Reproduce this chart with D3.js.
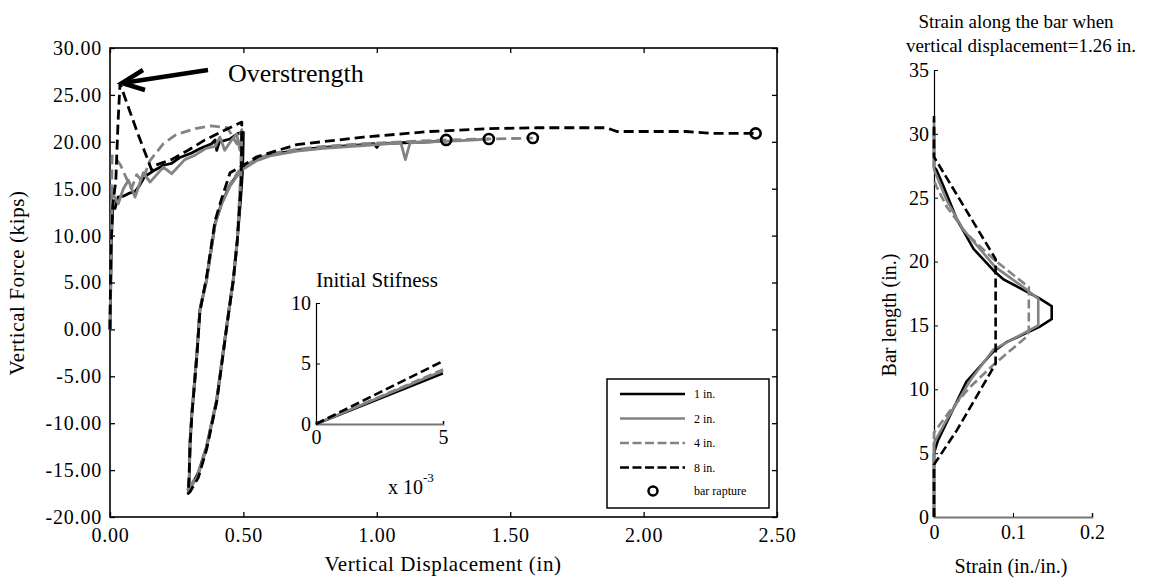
<!DOCTYPE html>
<html>
<head>
<meta charset="utf-8">
<script src="https://cdn.jsdelivr.net/npm/d3@7"></script>
<style>
body { margin: 0; background: #fff; }
svg text { font-family: "Liberation Serif", "Times New Roman", serif; fill: #000; }
</style>
</head>
<body>
<div id="chart"></div>
<script>
// main plot: vertical displacement (in) vs vertical force (kips)
const disp1 = [0, 0.003, 0.006, 0.01, 0.019, 0.03, 0.05, 0.07, 0.094, 0.11, 0.13, 0.169, 0.2, 0.231, 0.26, 0.306, 0.34, 0.381, 0.394, 0.4, 0.41, 0.45, 0.48, 0.5,
  0.497, 0.49, 0.477, 0.462, 0.444, 0.4, 0.362, 0.331, 0.3, 0.293,
  0.297, 0.3, 0.307, 0.326, 0.337, 0.362, 0.394, 0.419, 0.45, 0.48, 0.5, 0.55, 0.6, 0.7, 0.8, 0.95, 0.99, 1.0, 1.01, 1.1, 1.2, 1.26]
const force1 = [0, 5, 10, 13, 12.9, 14.1, 14.2, 14.5, 14.7, 15.3, 16.3, 17.0, 17.5, 17.7, 18.3, 18.8, 19.3, 19.8, 20.2, 19.1, 20.0, 20.3, 20.9, 21.0,
  17, 14, 9.5, 5.3, 1.75, -7.5, -12.5, -15.3, -16.9, -17.1,
  -16, -12, -8.9, -2.5, 2.1, 5.3, 11.3, 13.5, 15.4, 16.6, 17.2, 18.1, 18.6, 19.1, 19.4, 19.7, 19.8, 19.4, 19.8, 19.9, 20.0, 20.1]

const disp2 = [0, 0.004, 0.008, 0.02, 0.031, 0.05, 0.069, 0.094, 0.125, 0.15, 0.2, 0.231, 0.28, 0.32, 0.36, 0.394, 0.412, 0.43, 0.456, 0.475, 0.487, 0.494,
  0.49, 0.477, 0.462, 0.444, 0.4, 0.362, 0.331, 0.3, 0.293,
  0.297, 0.3, 0.307, 0.326, 0.337, 0.362, 0.394, 0.419, 0.45, 0.48, 0.5, 0.55, 0.6, 0.7, 0.8, 0.95, 1.09, 1.107, 1.125, 1.2, 1.3, 1.42]
const force2 = [0, 8, 14.5, 14.0, 13.4, 15.0, 15.9, 14.1, 16.7, 15.7, 17.3, 16.6, 18.1, 18.6, 19.3, 19.5, 20.5, 19.1, 20.2, 20.8, 19.1, 20.8,
  16, 9.3, 5.1, 1.6, -7.6, -12.6, -15.5, -17.0, -17.2,
  -16, -12.2, -9, -2.6, 2.0, 5.2, 11.2, 13.4, 15.3, 16.5, 17.1, 18.0, 18.5, 19.0, 19.3, 19.6, 19.9, 18.1, 19.9, 20.0, 20.1, 20.3]

const disp4 = [0, 0.004, 0.008, 0.02, 0.04, 0.06, 0.08, 0.1, 0.12, 0.15, 0.2, 0.25, 0.32, 0.38, 0.44, 0.475, 0.494,
  0.49, 0.477, 0.462, 0.444, 0.4, 0.362, 0.331, 0.3, 0.293,
  0.297, 0.3, 0.307, 0.326, 0.337, 0.362, 0.394, 0.419, 0.45, 0.48, 0.5, 0.55, 0.6, 0.7, 0.8, 0.95, 1.1, 1.26, 1.42, 1.585]
const force4 = [0, 10, 18.5, 18.3, 17.5, 16.2, 15.0, 16.5, 15.8, 18.0, 19.8, 20.8, 21.4, 21.7, 21.5, 19.8, 21.3,
  16.5, 9.6, 5.4, 1.8, -7.4, -12.4, -15.2, -16.8, -17.0,
  -15.8, -12, -8.8, -2.4, 2.2, 5.4, 11.4, 13.6, 15.5, 16.8, 17.3, 18.2, 18.7, 19.2, 19.5, 19.8, 20.0, 20.2, 20.3, 20.4]

const disp8 = [0, 0.003, 0.01, 0.022, 0.03, 0.0375, 0.1, 0.156, 0.17, 0.23, 0.293, 0.356, 0.419, 0.494,
  0.492, 0.477, 0.462, 0.444, 0.4, 0.362, 0.331, 0.3, 0.293,
  0.296, 0.3, 0.307, 0.326, 0.337, 0.362, 0.394, 0.419, 0.45, 0.5, 0.55, 0.7, 0.95, 1.2, 1.42, 1.6, 1.86, 1.9, 2.16, 2.25, 2.42]
const force8 = [0, 8, 13, 16, 22, 26.2, 21.2, 17.0, 17.5, 18.1, 19.1, 20.2, 21.1, 22.1,
  16, 9.4, 5.2, 1.6, -7.7, -12.8, -15.8, -17.3, -17.5,
  -16, -12.4, -9.1, -2.7, 1.9, 5.6, 11.6, 14, 16.7, 17.5, 18.4, 19.7, 20.5, 21.1, 21.4, 21.5, 21.5, 21.1, 21.1, 20.9, 20.9]

const ruptureDisp = [1.26, 1.42, 1.585, 2.42]
const ruptureForce = [20.2, 20.3, 20.4, 20.9]

const mainXTicks = [0, 0.5, 1, 1.5, 2, 2.5]
const mainYTicks = [-20, -15, -10, -5, 0, 5, 10, 15, 20, 25, 30]

// inset: initial stiffness, force at displacement 5e-3
const insetEnd = 0.005
const insetForce = [4.2, 4.4, 4.5, 5.2]

// right plot: strain along the bar (x) vs bar length (y)
const strain1 = [0, 0, 0.005, 0.016, 0.041, 0.075, 0.092, 0.134, 0.149, 0.149, 0.134, 0.088, 0.077, 0.05, 0.029, 0.012, 0.003, 0, 0]
const length1 = [0, 5.0, 6.0, 7.4, 10.6, 12.95, 13.7, 14.9, 15.5, 16.5, 17.1, 18.6, 19.2, 21.0, 23.3, 25.9, 27.2, 27.4, 30.5]
const strain2 = [0, 0, 0.016, 0.046, 0.075, 0.132, 0.132, 0.113, 0.077, 0.058, 0.037, 0.016, 0, 0]
const length2 = [0, 5.8, 7.6, 10.7, 13.1, 15.0, 17.1, 18.0, 19.6, 21.0, 22.5, 24.8, 27.2, 31.1]
const strain4 = [0, 0, 0.02, 0.046, 0.075, 0.117, 0.12, 0.12, 0.077, 0.041, 0.016, 0.003, 0]
const length4 = [0, 6.6, 8.3, 10.2, 11.9, 14.1, 14.5, 18.0, 20.1, 22.2, 24.3, 25.9, 26.4]
const strain8 = [0, 0, 0.029, 0.078, 0.078, 0, 0]
const length8 = [0, 4.1, 6.8, 12.0, 20.2, 28.2, 31.4]

const strainTicks = [0, 0.1, 0.2]
const lengthTicks = [0, 5, 10, 15, 20, 25, 30, 35]

const seriesNames = ["1 in.", "2 in.", "4 in.", "8 in."]
const seriesColor = ["#000", "#838383", "#838383", "#000"]
const seriesDash = [null, null, "10,5", "10,5"]

let zip = (a, b) => a.map((v, i) => [v, b[i]])

let svg = d3.select("#chart").append("svg")
            .attr("width", 1153)
            .attr("height", 579)

// ---------- main plot ----------
let x = d3.scaleLinear().domain([0, 2.5]).range([110, 777])
let y = d3.scaleLinear().domain([-20, 30]).range([517, 48])
let f2 = d => d3.format(".2f")(d).replace("\u2212", "-")

let styleAxis = g => {
    g.select(".domain").remove()
    g.selectAll(".tick line").attr("stroke", "#000").attr("stroke-width", 1.3)
    g.selectAll("text").attr("font-size", 20).attr("letter-spacing", "0.8px")
}

svg.append("g").attr("transform", "translate(0,517)")
   .call(d3.axisBottom(x).tickValues(mainXTicks).tickFormat(f2).tickSize(-5).tickPadding(11))
   .call(styleAxis)
svg.append("g").attr("transform", "translate(0,48)")
   .call(d3.axisTop(x).tickValues(mainXTicks).tickFormat("").tickSize(-5))
   .call(styleAxis)
svg.append("g").attr("transform", "translate(110,0)")
   .call(d3.axisLeft(y).tickValues(mainYTicks).tickFormat(f2).tickSize(-5).tickPadding(8))
   .call(styleAxis)
svg.append("g").attr("transform", "translate(777,0)")
   .call(d3.axisRight(y).tickValues(mainYTicks).tickFormat("").tickSize(-5))
   .call(styleAxis)

svg.append("rect").attr("x", 110).attr("y", 48).attr("width", 667).attr("height", 469)
   .attr("fill", "none").attr("stroke", "#000").attr("stroke-width", 1.6)

let mainLine = d3.line().x(d => x(d[0])).y(d => y(d[1]))
let mainData = [zip(disp1, force1), zip(disp2, force2), zip(disp4, force4), zip(disp8, force8)]

svg.selectAll("path.main")
   .data(mainData)
   .enter()
   .append("path")
   .attr("class", "main")
   .attr("d", mainLine)
   .attr("fill", "none")
   .attr("stroke", (d, i) => seriesColor[i])
   .attr("stroke-width", 2.8)
   .attr("stroke-dasharray", (d, i) => seriesDash[i])
   .attr("stroke-linejoin", "round")

svg.selectAll("circle.rupture")
   .data(zip(ruptureDisp, ruptureForce))
   .enter()
   .append("circle")
   .attr("class", "rupture")
   .attr("cx", d => x(d[0]))
   .attr("cy", d => y(d[1]))
   .attr("r", 5)
   .attr("fill", "none")
   .attr("stroke", "#000")
   .attr("stroke-width", 2.6)

// Overstrength arrow
svg.append("line").attr("x1", 208).attr("y1", 70).attr("x2", 126).attr("y2", 82.5)
   .attr("stroke", "#000").attr("stroke-width", 4.5)
svg.append("path").attr("d", "M143,70 L122,83 L145,90")
   .attr("fill", "none").attr("stroke", "#000").attr("stroke-width", 4.5)
svg.append("text").attr("x", 228).attr("y", 82).attr("font-size", 26).text("Overstrength")

svg.append("text").attr("x", 443).attr("y", 571).attr("text-anchor", "middle")
   .attr("font-size", 21).attr("letter-spacing", "0.6px").text("Vertical Displacement (in)")
svg.append("text").attr("transform", "translate(24,283) rotate(-90)").attr("text-anchor", "middle")
   .attr("font-size", 21).attr("letter-spacing", "0.6px").text("Vertical Force (kips)")

// ---------- inset ----------
let ix = d3.scaleLinear().domain([0, insetEnd]).range([316, 443])
let iy = d3.scaleLinear().domain([0, 10]).range([424, 303])

let inL = svg.append("g").attr("transform", "translate(316,0)")
   .call(d3.axisLeft(iy).tickValues([0, 5, 10]).tickSize(-4).tickPadding(5))
inL.select(".domain").attr("stroke", "#000").attr("stroke-width", 1.2)
inL.selectAll("text").attr("font-size", 20)
let inB = svg.append("g").attr("transform", "translate(0,424)")
   .call(d3.axisBottom(ix).tickValues([0, insetEnd]).tickFormat(d => d * 1000).tickSize(-3).tickPadding(6))
inB.select(".domain").attr("stroke", "#777").attr("stroke-width", 2)
inB.selectAll("text").attr("font-size", 20)

svg.selectAll("line.inset")
   .data(insetForce)
   .enter()
   .append("line")
   .attr("class", "inset")
   .attr("x1", ix(0)).attr("y1", iy(0))
   .attr("x2", ix(insetEnd)).attr("y2", d => iy(d))
   .attr("stroke", (d, i) => seriesColor[i])
   .attr("stroke-width", 2.6)
   .attr("stroke-dasharray", (d, i) => seriesDash[i] ? "9,4" : null)

svg.append("text").attr("x", 377).attr("y", 287).attr("text-anchor", "middle")
   .attr("font-size", 21).text("Initial Stifness")
let xl = svg.append("text").attr("x", 388).attr("y", 494).attr("font-size", 20)
xl.append("tspan").text("x 10")
xl.append("tspan").attr("dy", -12).attr("font-size", 13).text("-3")

// ---------- legend ----------
let legend = svg.append("g")
legend.append("rect").attr("x", 607).attr("y", 379).attr("width", 162).attr("height", 129)
      .attr("fill", "#fff").attr("stroke", "#000").attr("stroke-width", 1.5)
let rows = legend.selectAll("g.row")
      .data(seriesNames)
      .enter()
      .append("g")
      .attr("class", "row")
      .attr("transform", (d, i) => "translate(0," + (394 + i * 24.5) + ")")
rows.append("line").attr("x1", 620).attr("x2", 685)
    .attr("stroke", (d, i) => seriesColor[i])
    .attr("stroke-width", 2.6)
    .attr("stroke-dasharray", (d, i) => seriesDash[i] ? "9,3.5" : null)
rows.append("text").attr("x", 694).attr("y", 4).attr("font-size", 12).text(d => d)
legend.append("circle").attr("cx", 653).attr("cy", 491).attr("r", 4.5)
      .attr("fill", "none").attr("stroke", "#000").attr("stroke-width", 2.5)
legend.append("text").attr("x", 694).attr("y", 495).attr("font-size", 12).text("bar rapture")

// ---------- right plot ----------
let rx = d3.scaleLinear().domain([0, 0.2]).range([934, 1092])
let ry = d3.scaleLinear().domain([0, 35]).range([517, 70])

let rL = svg.append("g").attr("transform", "translate(934,0)")
   .call(d3.axisLeft(ry).tickValues(lengthTicks).tickSize(-4).tickPadding(5))
rL.select(".domain").attr("stroke", "#000").attr("stroke-width", 1.2)
rL.selectAll("text").attr("font-size", 20)
let rB = svg.append("g").attr("transform", "translate(0,517)")
   .call(d3.axisBottom(rx).tickValues(strainTicks).tickFormat(d => d === 0 ? "0" : d3.format(".1f")(d)).tickSize(-4).tickPadding(8))
rB.select(".domain").attr("stroke", "#777").attr("stroke-width", 1.8)
rB.selectAll("text").attr("font-size", 20)

let rightLine = d3.line().x(d => rx(d[0])).y(d => ry(d[1]))
let rightData = [zip(strain1, length1), zip(strain2, length2), zip(strain4, length4), zip(strain8, length8)]

svg.selectAll("path.right")
   .data(rightData)
   .enter()
   .append("path")
   .attr("class", "right")
   .attr("d", rightLine)
   .attr("fill", "none")
   .attr("stroke", (d, i) => seriesColor[i])
   .attr("stroke-width", 2.6)
   .attr("stroke-dasharray", (d, i) => seriesDash[i] ? "9,4" : null)

svg.append("text").attr("x", 1016).attr("y", 28).attr("text-anchor", "middle")
   .attr("font-size", 19).text("Strain along the bar when")
svg.append("text").attr("x", 1021).attr("y", 52).attr("text-anchor", "middle")
   .attr("font-size", 19).text("vertical displacement=1.26 in.")
svg.append("text").attr("x", 1011).attr("y", 573).attr("text-anchor", "middle")
   .attr("font-size", 20).text("Strain (in./in.)")
svg.append("text").attr("transform", "translate(896,315) rotate(-90)").attr("text-anchor", "middle")
   .attr("font-size", 20).text("Bar length (in.)")
</script>
</body>
</html>
